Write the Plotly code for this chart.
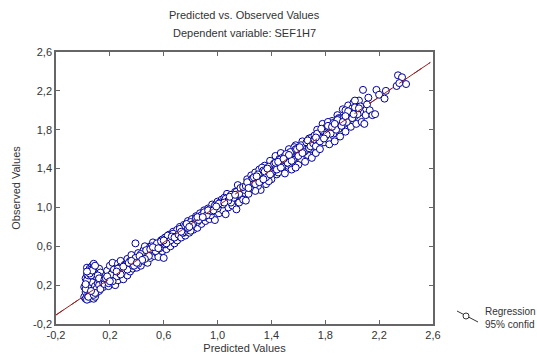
import plotly.graph_objects as go

# ---- data (Predicted, Observed) ----
pred_a = [0.01,0.02,0.03,0.02,0.01,0.03,0.02,0.03,0.04,0.03,0.05,0.06,0.04,0.05,0.06,0.05,0.04,0.06,0.05,0.07,
          0.08,0.07,0.08,0.07,0.09,0.08,0.07,0.09,0.08,0.10,0.09,0.10,0.11,0.10,0.11,0.12,0.11,0.12,0.13,0.12,
          0.04,0.06,0.03,0.07,0.09,0.13,0.14,0.14,0.15,0.15,
          0.02,0.03,0.04,0.05,0.06,0.07,0.08,0.09,0.10,0.11,0.12,0.13,0.14,0.02,0.04,0.06,0.08,0.10,0.12,0.05,
          0.07,0.09,0.11,0.13,0.03,0.06,0.09,0.12,0.15,0.16]
obs_a = [0.08,0.06,0.10,0.13,0.18,0.22,0.27,0.31,0.35,0.38,0.06,0.09,0.12,0.16,0.20,0.24,0.28,0.33,0.37,0.40,
         0.06,0.11,0.15,0.19,0.23,0.27,0.30,0.34,0.42,0.38,0.08,0.12,0.17,0.21,0.26,0.30,0.34,0.37,0.19,0.14,
         0.17,0.26,0.05,0.23,0.29,0.25,0.22,0.31,0.27,0.18,
         0.16,0.25,0.30,0.10,0.36,0.14,0.38,0.19,0.29,0.22,0.25,0.33,0.28,0.21,0.08,0.30,0.10,0.16,0.20,0.32,
         0.35,0.12,0.30,0.16,0.34,0.14,0.40,0.27,0.22,0.26]

pred_b = [0.16,0.17,0.18,0.18,0.19,0.20,0.20,0.21,0.22,0.22,0.23,0.24,0.24,0.25,0.26,0.26,0.27,0.28,0.28,0.29,
          0.30,0.30,0.31,0.32,0.33,0.33,0.34,0.35,0.36,0.36,0.37,0.38,0.39,0.40,0.40,0.41,0.42,0.43,0.44,0.45,
          0.45,0.46,0.47,0.48,0.49,0.50,0.50,0.51,0.52,0.53,0.54,0.55,0.55,0.56,0.57,0.58,0.59,0.60,0.60,0.61,
          0.62,0.63,0.64,0.65,0.66,0.67,0.68,0.69,0.70,0.70,
          0.17,0.19,0.21,0.23,0.25,0.27,0.29,0.31,0.33,0.35,0.37,0.39,0.41,0.43,0.45,0.47,0.49,0.51,0.53,0.55,
          0.57,0.59,0.61,0.63,0.65,0.67,0.69,0.18,0.22,0.26,0.30,0.34,0.38,0.42,0.46,0.50,0.54,0.58,0.62,0.66,
          0.20,0.28,0.36,0.44,0.52,0.60,0.68,0.25,0.40,0.56]
obs_b = [0.21,0.30,0.25,0.35,0.19,0.28,0.40,0.23,0.33,0.43,0.27,0.20,0.37,0.31,0.42,0.25,0.34,0.29,0.45,0.38,
         0.32,0.26,0.41,0.35,0.30,0.47,0.39,0.34,0.44,0.51,0.37,0.42,0.63,0.47,0.38,0.53,0.44,0.40,0.49,0.56,
         0.45,0.60,0.51,0.43,0.55,0.48,0.60,0.53,0.64,0.50,0.57,0.62,0.53,0.49,0.59,0.66,0.55,0.48,0.62,0.69,
         0.57,0.64,0.72,0.60,0.67,0.75,0.63,0.70,0.77,0.66,
         0.27,0.22,0.31,0.36,0.29,0.38,0.33,0.40,0.36,0.45,0.40,0.48,0.42,0.52,0.47,0.56,0.50,0.60,0.55,0.63,
         0.58,0.67,0.62,0.71,0.66,0.73,0.70,0.29,0.24,0.37,0.39,0.43,0.40,0.50,0.47,0.57,0.55,0.65,0.63,0.70,
         0.24,0.31,0.45,0.46,0.59,0.66,0.69,0.34,0.43,0.58]

pred_c = [0.71,0.72,0.73,0.74,0.75,0.76,0.77,0.78,0.79,0.80,0.81,0.82,0.83,0.84,0.85,0.86,0.87,0.88,0.89,0.90,
          0.91,0.92,0.93,0.94,0.95,0.96,0.97,0.98,0.99,1.00,1.01,1.02,1.03,1.04,1.05,1.06,1.07,1.08,1.09,1.10,
          1.11,1.12,1.13,1.14,1.15,1.16,1.17,1.18,1.19,1.20,0.75,0.85,0.95,1.05,1.15,0.90,1.00,1.10,0.80,1.21,
          0.72,0.74,0.76,0.78,0.80,0.82,0.84,0.86,0.88,0.90,0.92,0.94,0.96,0.98,1.00,1.02,1.04,1.06,1.08,1.10,
          1.12,1.14,1.16,1.18,1.20,0.73,0.77,0.81,0.85,0.89,0.93,0.97,1.01,1.05,1.09,1.13,1.17,0.79,0.99,1.19]
obs_c = [0.72,0.80,0.69,0.76,0.82,0.71,0.78,0.86,0.74,0.81,0.88,0.77,0.84,0.91,0.79,0.86,0.94,0.83,0.89,0.97,
         0.86,0.92,0.99,0.88,0.95,1.03,0.91,0.87,0.98,1.06,0.94,1.01,1.08,0.97,1.04,0.93,1.14,1.00,1.07,1.12,
         1.02,1.09,1.16,0.98,1.23,1.05,1.12,1.19,1.08,1.15,0.74,0.85,0.92,1.10,1.14,0.90,1.00,1.05,0.76,1.07,
         0.78,0.74,0.81,0.79,0.85,0.83,0.89,0.87,0.92,0.95,0.92,0.98,0.96,1.02,0.99,1.05,1.03,1.09,1.07,1.13,
         1.10,1.16,1.14,1.20,1.18,0.75,0.83,0.82,0.90,0.90,0.97,0.97,1.04,1.05,1.11,1.13,1.20,0.80,1.01,1.21]

pred_d = [1.21,1.22,1.23,1.24,1.25,1.26,1.27,1.28,1.29,1.30,1.31,1.32,1.33,1.34,1.35,1.36,1.37,1.38,1.39,1.40,
          1.41,1.42,1.43,1.44,1.45,1.46,1.47,1.48,1.49,1.50,1.51,1.52,1.53,1.54,1.55,1.56,1.57,1.58,1.59,1.60,
          1.61,1.62,1.63,1.64,1.65,1.66,1.67,1.68,1.69,1.70,1.25,1.30,1.35,1.40,1.45,1.50,1.55,1.60,1.65,1.73,
          1.28,1.33,1.38,1.43,1.48,1.53,1.58,1.63,1.68,1.57,
          1.22,1.24,1.26,1.28,1.30,1.32,1.34,1.36,1.38,1.40,1.42,1.44,1.46,1.48,1.50,1.52,1.54,1.56,1.58,1.60,
          1.62,1.64,1.66,1.68,1.70,1.23,1.27,1.31,1.35,1.39,1.43,1.47,1.51,1.55,1.59,1.63,1.67,1.29,1.37,1.45,
          1.53,1.61,1.69,1.34,1.49]
obs_d = [1.22,1.29,1.14,1.25,1.33,1.19,1.28,1.36,1.22,1.31,1.39,1.18,1.27,1.35,1.43,1.24,1.32,1.40,1.48,1.29,
         1.37,1.45,1.53,1.34,1.42,1.50,1.56,1.38,1.46,1.35,1.52,1.43,1.60,1.49,1.39,1.57,1.46,1.64,1.53,1.44,
         1.61,1.50,1.68,1.57,1.47,1.64,1.54,1.71,1.60,1.51,1.24,1.22,1.30,1.41,1.36,1.47,1.51,1.55,1.58,1.56,
         1.17,1.41,1.27,1.39,1.51,1.45,1.41,1.62,1.65,1.62,
         1.26,1.20,1.30,1.24,1.34,1.27,1.38,1.31,1.42,1.35,1.45,1.39,1.49,1.42,1.53,1.46,1.57,1.49,1.60,1.53,
         1.64,1.57,1.67,1.61,1.72,1.20,1.31,1.26,1.37,1.34,1.46,1.41,1.55,1.48,1.60,1.56,1.69,1.32,1.40,1.47,
         1.54,1.62,1.63,1.29,1.50]

pred_e = [1.71,1.72,1.73,1.74,1.75,1.76,1.77,1.78,1.79,1.80,1.81,1.82,1.83,1.84,1.85,1.86,1.87,1.88,1.89,1.90,
          1.91,1.92,1.93,1.94,1.95,1.96,1.97,1.98,1.99,2.00,2.01,2.02,2.03,2.04,2.05,2.06,2.07,2.08,2.09,2.10,
          2.11,2.12,2.13,2.15,2.17,2.18,2.20,2.24,2.25,2.33,2.34,2.37,2.40,2.35,1.82,1.90,1.95,2.02,1.78,1.86,
          1.72,1.74,1.76,1.78,1.80,1.82,1.84,1.86,1.88,1.90,1.92,1.94,1.96,1.98,2.00,2.02,2.04,2.06,1.73,1.77,
          1.81,1.85,1.89,1.93,1.97,2.01,2.05,1.79,1.87,1.95]
obs_e = [1.66,1.74,1.63,1.80,1.70,1.60,1.77,1.86,1.67,1.74,1.83,1.70,1.65,1.79,1.89,1.76,1.68,1.85,1.95,1.81,
         1.73,1.90,2.01,1.86,1.78,1.96,2.05,1.91,1.83,2.02,2.08,1.94,1.86,2.06,2.10,1.98,1.88,2.21,1.86,1.95,
         2.06,2.13,2.00,1.95,1.96,2.21,2.16,2.12,2.20,2.25,2.36,2.34,2.27,2.28,1.88,1.92,2.00,2.10,1.72,1.82,
         1.70,1.76,1.68,1.79,1.73,1.84,1.76,1.87,1.80,1.91,1.84,1.93,1.88,1.98,1.92,2.03,1.96,2.04,1.72,1.81,
         1.75,1.83,1.90,1.88,1.99,1.96,2.02,1.71,1.86,1.94]

predicted = pred_a + pred_b + pred_c + pred_d + pred_e
observed = obs_a + obs_b + obs_c + obs_d + obs_e

# regression line
reg_intercept = 0.08
reg_slope = 0.935
reg_x = [-0.2, 2.58]
reg_y = [reg_intercept + reg_slope * v for v in reg_x]

tick_vals = [-0.2, 0.2, 0.6, 1.0, 1.4, 1.8, 2.2, 2.6]
tick_text = ["-0,2", "0,2", "0,6", "1,0", "1,4", "1,8", "2,2", "2,6"]

FONT = "Liberation Sans, Arial, sans-serif"
TXT = "#333333"

fig = go.Figure()
fig.add_trace(go.Scatter(x=reg_x, y=reg_y, mode="lines",
                         line=dict(color="#9a1f1f", width=1), showlegend=False, hoverinfo="skip"))
fig.add_trace(go.Scatter(x=predicted, y=observed, mode="markers",
                         marker=dict(size=7, color="white", line=dict(color="#00009a", width=1)),
                         showlegend=False))
fig.add_trace(go.Scatter(x=reg_x, y=reg_y, mode="lines",
                         line=dict(color="#9a1f1f", width=1, dash="dash"), showlegend=False, hoverinfo="skip"))

# plot area in pixels
L, R, T, B = 56, 433, 52, 324
W, H = 537, 359
def px(xp):
    return (xp - L) / (R - L)
def py(yp):
    return (B - yp) / (B - T)

axis_common = dict(range=[-0.2, 2.6], tickvals=tick_vals, ticktext=tick_text,
                   ticks="inside", ticklen=4, tickcolor="#666666",
                   showline=True, linecolor="#666666", linewidth=1.5, mirror="ticks",
                   showgrid=False, zeroline=False,
                   tickfont=dict(family=FONT, size=11, color=TXT), automargin=False)

fig.update_layout(
    width=W, height=H,
    margin=dict(l=L, r=W - R, t=T, b=H - B),
    paper_bgcolor="white", plot_bgcolor="white",
    xaxis=dict(axis_common, title=dict(text="Predicted Values", font=dict(family=FONT, size=11, color=TXT), standoff=4)),
    yaxis=dict(axis_common, title=dict(text="Observed Values", font=dict(family=FONT, size=11, color=TXT), standoff=10)),
    showlegend=False,
    annotations=[
        dict(text="Predicted vs. Observed Values", x=0.5, y=py(15), xref="paper", yref="paper",
             yanchor="middle", showarrow=False, font=dict(family=FONT, size=11, color=TXT)),
        dict(text="Dependent variable: SEF1H7", x=0.5, y=py(33), xref="paper", yref="paper",
             yanchor="middle", showarrow=False, font=dict(family=FONT, size=11, color=TXT)),
        dict(text="Regression<br>95% confid", x=px(483), y=py(318), xref="paper", yref="paper",
             xanchor="left", yanchor="middle", align="left", showarrow=False,
             font=dict(family=FONT, size=10, color=TXT)),
    ],
    shapes=[
        dict(type="line", xref="paper", yref="paper", x0=px(457), y0=py(311), x1=px(478), y1=py(322),
             line=dict(color="#333333", width=1)),
        dict(type="circle", xref="paper", yref="paper", x0=px(463), y0=py(313), x1=px(469), y1=py(319),
             fillcolor="white", line=dict(color="#333333", width=1)),
    ],
)

fig.write_html("out.html")
